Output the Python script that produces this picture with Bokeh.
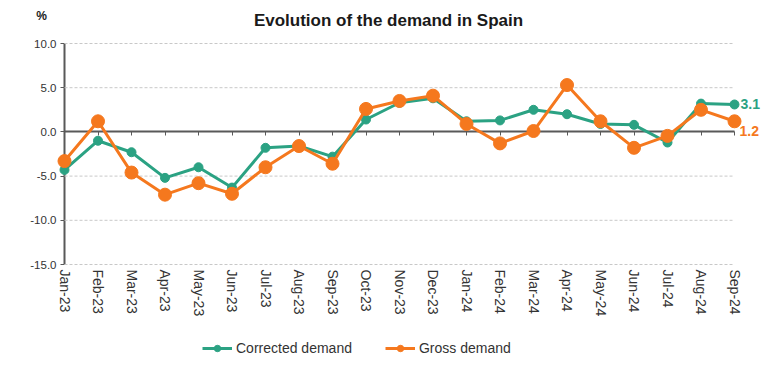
from bokeh.plotting import figure
from bokeh.models import (ColumnDataSource, Range1d, FixedTicker, LinearAxis,
                          PrintfTickFormatter, Legend, LegendItem, Label)
from bokeh.embed import file_html
from bokeh.resources import INLINE

months = ["Jan-23", "Feb-23", "Mar-23", "Apr-23", "May-23", "Jun-23", "Jul-23",
          "Aug-23", "Sep-23", "Oct-23", "Nov-23", "Dec-23", "Jan-24", "Feb-24",
          "Mar-24", "Apr-24", "May-24", "Jun-24", "Jul-24", "Aug-24", "Sep-24"]
corrected = [-4.3, -1.0, -2.3, -5.2, -4.0, -6.3, -1.8, -1.6, -2.8, 1.4, 3.3, 3.8,
             1.2, 1.3, 2.5, 2.0, 0.9, 0.8, -1.2, 3.2, 3.1]
gross = [-3.3, 1.2, -4.6, -7.1, -5.8, -7.0, -4.0, -1.6, -3.6, 2.6, 3.5, 4.1,
         0.9, -1.3, 0.1, 5.3, 1.2, -1.8, -0.45, 2.5, 1.2]
y_ticks = [-15, -10, -5, 0, 5, 10]

GREEN = "#2ba283"
ORANGE = "#f5781e"
FONT = "Liberation Sans"
AXIS = "#595959"
TXT = "#333333"

W, H = 768, 367
# frame layout (pixels): the frame covers the whole canvas
X0_PX, X1_PX = 64, 734     # first / last month
YT_PX, YB_PX = 43, 264     # top / bottom of the value axis

idx = list(range(len(months)))
last = idx[-1]
ymin, ymax = y_ticks[0], y_ticks[-1]
ppx = (X1_PX - X0_PX) / last
ppy = (YB_PX - YT_PX) / (ymax - ymin)

src = ColumnDataSource(dict(x=idx, c=corrected, g=gross))
grid_src = ColumnDataSource(dict(y=[t for t in y_ticks if t != 0]))

p = figure(width=W, height=H, output_backend="svg", toolbar_location=None,
           x_axis_location=None, y_axis_location=None,
           x_range=Range1d(-X0_PX / ppx, (W - X0_PX) / ppx),
           y_range=Range1d(ymax - (H - YT_PX) / ppy, ymax + YT_PX / ppy),
           min_border=0, min_border_left=0, min_border_right=0,
           min_border_top=0, min_border_bottom=0)
p.outline_line_color = None
p.background_fill_color = "white"
p.border_fill_color = "white"
p.xgrid.visible = False
p.ygrid.visible = False

# dashed grid lines across the plotted months
p.segment(x0=0, x1=last, y0="y", y1="y", source=grid_src,
          line_color="#c8c8c8", line_dash="3 2", line_width=1)

# value axis
ya = LinearAxis(fixed_location=0, bounds=(ymin, ymax),
                ticker=FixedTicker(ticks=y_ticks),
                formatter=PrintfTickFormatter(format="%.1f"))
ya.axis_line_color = AXIS
ya.axis_line_width = 2
ya.major_tick_line_color = AXIS
ya.major_tick_line_width = 1
ya.major_tick_out = 4
ya.major_tick_in = 0
ya.minor_tick_line_color = None
ya.major_label_text_font = FONT
ya.major_label_text_font_size = "11.5px"
ya.major_label_text_color = TXT
ya.major_label_standoff = 4
ya.level = "underlay"
p.add_layout(ya, "left")

# zero line with month ticks
za = LinearAxis(fixed_location=0, bounds=(0, last), ticker=FixedTicker(ticks=idx))
za.axis_line_color = AXIS
za.axis_line_width = 2
za.major_tick_line_color = AXIS
za.major_tick_out = 4
za.major_tick_in = 0
za.minor_tick_line_color = None
za.major_label_text_alpha = 0
za.major_label_text_font_size = "1px"
za.level = "underlay"
p.add_layout(za, "below")

# month labels under the bottom of the value axis
xa = LinearAxis(fixed_location=ymin, ticker=FixedTicker(ticks=idx))
xa.major_label_overrides = {i: m for i, m in zip(idx, months)}
xa.major_label_orientation = "vertical"
xa.axis_line_color = None
xa.major_tick_line_color = None
xa.minor_tick_line_color = None
xa.major_tick_out = 0
xa.major_tick_in = 0
xa.major_label_text_font = FONT
xa.major_label_text_font_size = "14px"
xa.major_label_text_color = TXT
xa.major_label_standoff = 5
p.add_layout(xa, "below")

# series
l1 = p.line("x", "c", source=src, line_color=GREEN, line_width=3)
m1 = p.scatter("x", "c", source=src, size=9, fill_color=GREEN, line_color=GREEN)
l2 = p.line("x", "g", source=src, line_color=ORANGE, line_width=3)
m2 = p.scatter("x", "g", source=src, size=13, fill_color=ORANGE, line_color=ORANGE)

legend = Legend(items=[LegendItem(label="Corrected demand", renderers=[l1, m1]),
                       LegendItem(label="Gross demand", renderers=[l2, m2])],
                orientation="horizontal", location=(202, 11),
                glyph_width=30, glyph_height=16, label_text_font=FONT,
                label_text_font_size="14px", label_text_color=TXT,
                label_standoff=4, spacing=33, padding=0, margin=0,
                border_line_color=None, background_fill_alpha=0)
p.add_layout(legend, "center")

# title
p.add_layout(Label(x=last / 2, y=ymax, text="Evolution of the demand in Spain",
                   x_offset=-11, y_offset=23, text_align="center",
                   text_baseline="middle", text_font=FONT, text_font_size="17px",
                   text_font_style="bold", text_color="#1a1a1a"))

# % label
p.add_layout(Label(x=0, y=ymax, text="%", x_offset=-23, y_offset=28,
                   text_align="center", text_baseline="middle",
                   text_font=FONT, text_font_size="12px", text_font_style="bold",
                   text_color="#1a1a1a"))

# last value labels
p.add_layout(Label(x=last, y=corrected[-1], text=f"{corrected[-1]:.1f}", x_offset=6,
                   y_offset=0, text_baseline="middle", text_font=FONT,
                   text_font_size="14px", text_font_style="bold", text_color=GREEN))
p.add_layout(Label(x=last, y=gross[-1], text=f"{gross[-1]:.1f}", x_offset=5,
                   y_offset=-10, text_baseline="middle", text_font=FONT,
                   text_font_size="14px", text_font_style="bold", text_color=ORANGE))

open("out.html", "w").write(file_html(p, INLINE))
